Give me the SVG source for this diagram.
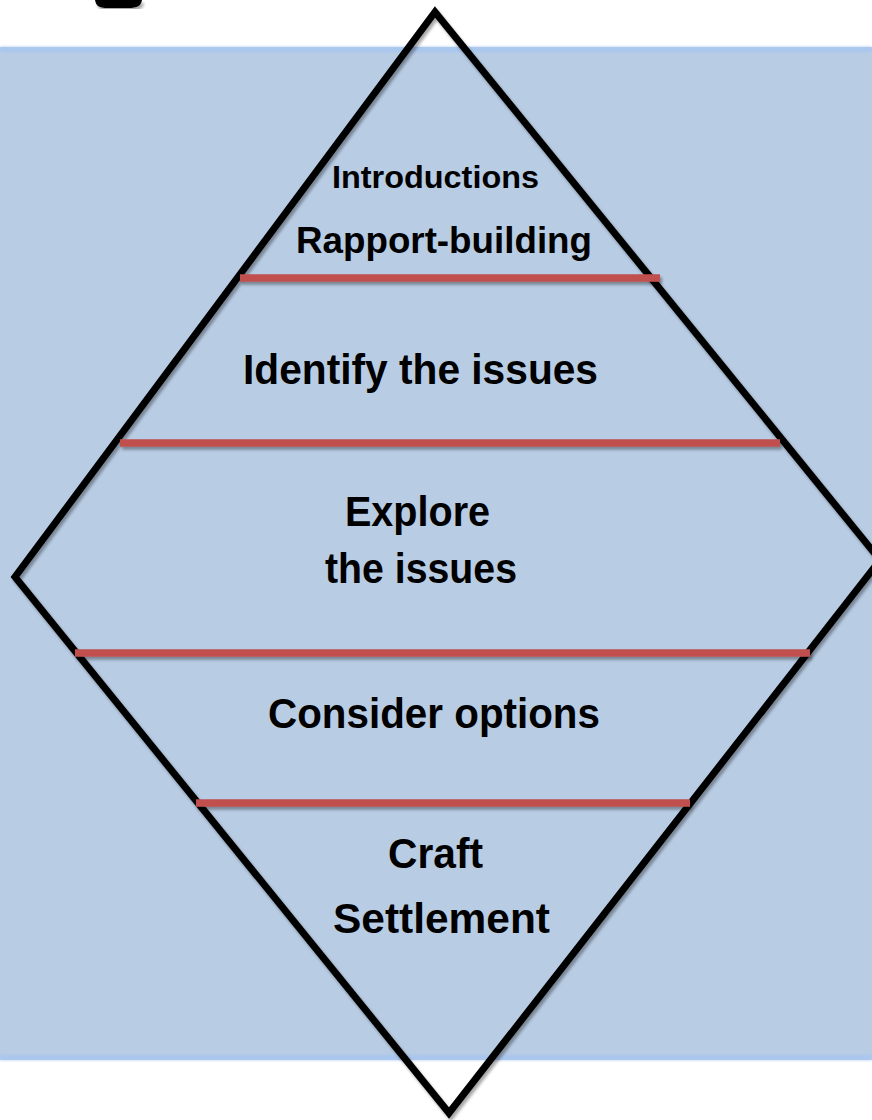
<svg xmlns="http://www.w3.org/2000/svg" width="872" height="1120" viewBox="0 0 872 1120">
  <defs>
    <filter id="sh" x="-10%" y="-10%" width="120%" height="120%">
      <feDropShadow dx="2" dy="3" stdDeviation="1.8" flood-color="#000" flood-opacity="0.35"/>
    </filter>
    <filter id="blur" x="-5%" y="-50%" width="110%" height="200%">
      <feGaussianBlur stdDeviation="1.5"/>
    </filter>
    <style>
      .lbl { font-family: "Liberation Sans", Arial, sans-serif; font-weight: bold; fill: #000; text-anchor: middle; }
      .band { stroke: #c0504d; stroke-width: 7.5; fill: none; }
    </style>
  </defs>
  <rect x="0" y="0" width="872" height="1120" fill="#ffffff"/>
  <!-- background panel -->
  <g id="panel">
    <rect x="0" y="47" width="872" height="1013" fill="#b8cce4"/>
    <rect x="0" y="47" width="872" height="5" fill="#a8c6ef" filter="url(#blur)"/>
    <rect x="0" y="1055" width="872" height="5" fill="#a8c6ef" filter="url(#blur)"/>
  </g>
  <!-- cut-off fragment at top left -->
  <path d="M95,0 L142,0 C141,6 137,8 128,8 L108,8 C99,8 96,6 95,0 Z" fill="#000" filter="url(#sh)"/>
  <!-- diamond -->
  <g id="diamond" filter="url(#sh)">
    <polygon points="435,12 880,560 449,1113 15,577" fill="none" stroke="#000" stroke-width="7" stroke-linejoin="miter"/>
  </g>
  <!-- dividers -->
  <g id="dividers" filter="url(#sh)">
    <line class="band" x1="240" y1="278" x2="660" y2="278"/>
    <line class="band" x1="120" y1="443" x2="780" y2="443"/>
    <line class="band" x1="75" y1="653" x2="810" y2="653"/>
    <line class="band" x1="196" y1="803" x2="690" y2="803"/>
  </g>
  <g id="stage1">
    <text class="lbl" x="435.5" y="188" font-size="32" textLength="207" lengthAdjust="spacingAndGlyphs">Introductions</text>
    <text class="lbl" x="444" y="253" font-size="37" textLength="296" lengthAdjust="spacingAndGlyphs">Rapport-building</text>
  </g>
  <g id="stage2">
    <text class="lbl" x="420.5" y="384" font-size="42" textLength="355" lengthAdjust="spacingAndGlyphs">Identify the issues</text>
  </g>
  <g id="stage3">
    <text class="lbl" x="417.5" y="526" font-size="42" textLength="145" lengthAdjust="spacingAndGlyphs">Explore</text>
    <text class="lbl" x="421" y="583" font-size="42" textLength="192" lengthAdjust="spacingAndGlyphs">the issues</text>
  </g>
  <g id="stage4">
    <text class="lbl" x="434" y="728" font-size="42" textLength="332" lengthAdjust="spacingAndGlyphs">Consider options</text>
  </g>
  <g id="stage5">
    <text class="lbl" x="435.5" y="868" font-size="42" textLength="95" lengthAdjust="spacingAndGlyphs">Craft</text>
    <text class="lbl" x="441.5" y="933" font-size="42" textLength="217" lengthAdjust="spacingAndGlyphs">Settlement</text>
  </g>
</svg>
